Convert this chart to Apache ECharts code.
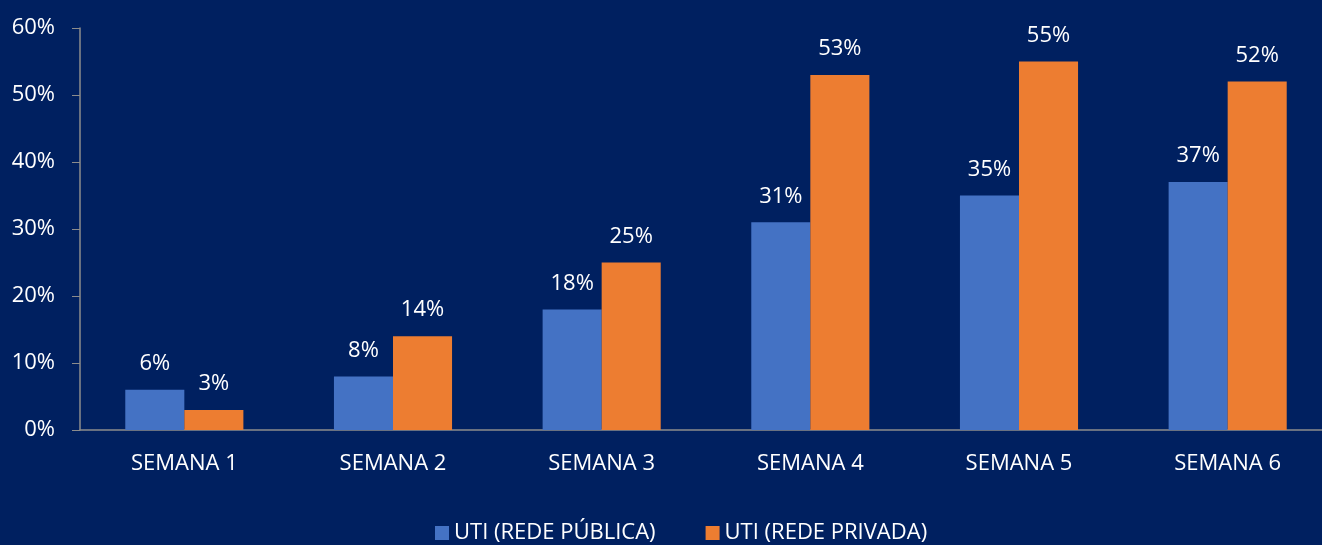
<!DOCTYPE html>
<html lang="pt">
  <head>
    <meta charset="UTF-8" />
    <title>UTI - Rede Pública x Rede Privada</title>
    <script src="https://cdn.jsdelivr.net/npm/echarts@6/dist/echarts.min.js"></script>
    <style>
      body { margin: 0; background: #002060; overflow: hidden; }
    </style>
  </head>
  <body>
    <!-- plot area runs a bit past the right edge, like the original -->
    <div id="main" style="width: 1332px; height: 545px"></div>

    <script type="text/javascript">
      const semanas = ["SEMANA 1", "SEMANA 2", "SEMANA 3", "SEMANA 4", "SEMANA 5", "SEMANA 6"];
      const redePublica = [6, 8, 18, 31, 35, 37];
      const redePrivada = [3, 14, 25, 53, 55, 52];

      let myChart = echarts.init(document.getElementById("main"));
      const font = "Open Sans";
      const fs = 22;

      const label = {
        show: true,
        position: "top",
        distance: 15,
        color: "#ffffff",
        fontFamily: font,
        fontSize: fs,
        formatter: (p) => p.value + "%",
      };

      const options = {
        backgroundColor: "#002060",
        grid: { left: 80, right: 0, top: 28, bottom: 115 },
        legend: {
          bottom: -4,
          left: 430,
          itemWidth: 14,
          itemHeight: 14,
          itemGap: 50,
          icon: "rect",
          textStyle: { color: "#ffffff", fontFamily: font, fontSize: fs },
          data: ["UTI (REDE PÚBLICA)", "UTI (REDE PRIVADA)"],
        },
        xAxis: {
          type: "category",
          data: semanas,
          axisLine: { lineStyle: { color: "#8c8c8c", width: 1.5 } },
          axisTick: { show: false },
          axisLabel: { color: "#ffffff", fontFamily: font, fontSize: fs, margin: 23 },
        },
        yAxis: {
          type: "value",
          min: 0,
          max: 60,
          interval: 10,
          splitLine: { show: false },
          axisLine: { show: true, lineStyle: { color: "#8c8c8c", width: 1.5 } },
          axisTick: { show: true, length: 8, lineStyle: { color: "#8c8c8c" } },
          axisLabel: {
            color: "#ffffff",
            fontFamily: font,
            fontSize: fs,
            margin: 25,
            formatter: "{value}%",
          },
        },
        series: [
          {
            name: "UTI (REDE PÚBLICA)",
            type: "bar",
            data: redePublica,
            barWidth: "28.3%",
            barGap: "0%",
            itemStyle: { color: "#4472c4" },
            label: label,
          },
          {
            name: "UTI (REDE PRIVADA)",
            type: "bar",
            data: redePrivada,
            barWidth: "28.3%",
            itemStyle: { color: "#ed7d31" },
            label: label,
          },
        ],
      };

      myChart.setOption(options);
    </script>
  </body>
</html>
